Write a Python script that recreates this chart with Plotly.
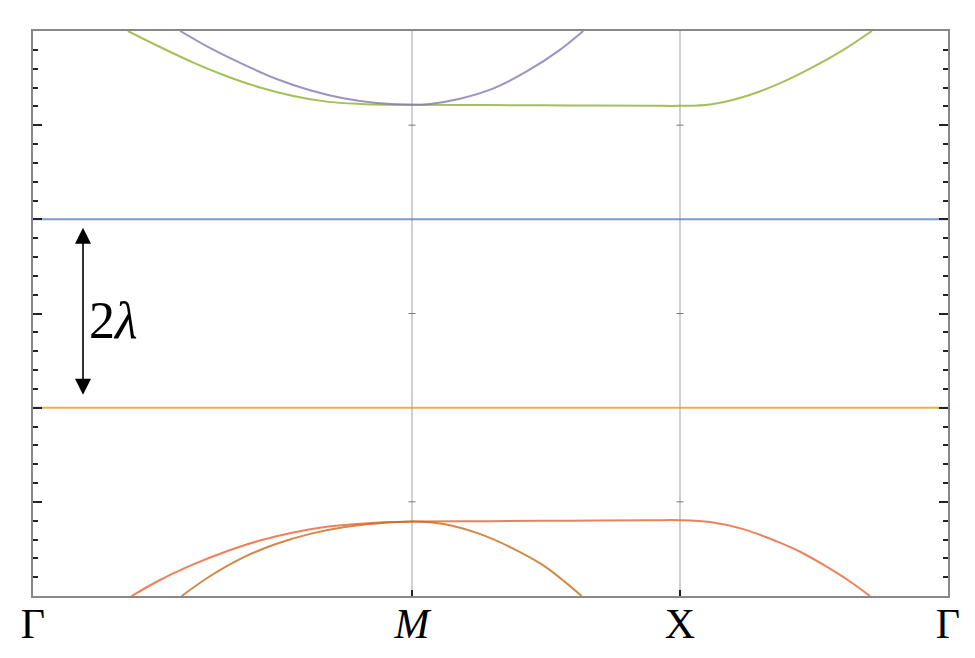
import plotly.graph_objects as go

# k-path positions (units of pi/a): Gamma, M, X, Gamma
k_ticks = [0.0, 1.414, 2.414, 3.414]
k_labels = ["Γ", "<i>M</i>", "X", "Γ"]

lam = 1.0
E_range = [-3.0, 3.0]

# flat bands at +lambda and -lambda
flat_k = [0.0, 3.414]
flat_upper = [1.0, 1.0]
flat_lower = [-1.0, -1.0]

# upper green band
green_k = [0.354, 0.474, 0.598, 0.723, 0.847, 0.971, 1.096, 1.220, 1.320, 1.414,
           1.70, 2.00, 2.30, 2.414, 2.526, 2.650, 2.775, 2.899, 3.024, 3.130]
green_E = [3.00, 2.83, 2.665, 2.52, 2.40, 2.31, 2.25, 2.225, 2.217, 2.216,
           2.213, 2.21, 2.206, 2.205, 2.22, 2.30, 2.43, 2.60, 2.80, 3.00]

# upper purple band
purple_k = [0.549, 0.660, 0.785, 0.909, 1.034, 1.158, 1.282, 1.414,
            1.481, 1.593, 1.718, 1.842, 1.966, 2.053]
purple_E = [3.00, 2.82, 2.645, 2.49, 2.37, 2.285, 2.235, 2.216,
            2.225, 2.28, 2.39, 2.57, 2.80, 3.00]

# lower red band
red_k = [0.368, 0.474, 0.598, 0.723, 0.847, 0.971, 1.096, 1.220, 1.344, 1.414,
         1.70, 2.00, 2.30, 2.414, 2.526, 2.650, 2.775, 2.862, 2.950, 3.040, 3.123]
red_E = [-3.00, -2.83, -2.665, -2.525, -2.41, -2.325, -2.265, -2.232, -2.214, -2.21,
         -2.205, -2.20, -2.196, -2.195, -2.215, -2.29, -2.42, -2.53, -2.67, -2.83, -3.00]

# lower brown band
brown_k = [0.555, 0.660, 0.785, 0.909, 1.034, 1.158, 1.282, 1.414,
           1.531, 1.656, 1.780, 1.904, 2.047]
brown_E = [-3.00, -2.79, -2.59, -2.445, -2.34, -2.27, -2.23, -2.21,
           -2.235, -2.33, -2.48, -2.675, -3.00]

# small marks on the interior grid lines at major energies
mark_k = [1.414, 2.414]
mark_E = [-2.0, 0.0, 2.0]

c_blue = "#5E81B5"
c_orange = "#E09C24"
c_green = "#8FB032"
c_red = "#EB6235"
c_purple = "#8778B3"
c_brown = "#C56E1A"

fig = go.Figure()

def band(k, E, color):
    fig.add_trace(go.Scatter(x=k, y=E, mode="lines",
                             line=dict(color=color, width=2, shape="spline", smoothing=1.0),
                             opacity=0.8, hoverinfo="skip", showlegend=False))

band(flat_k, flat_upper, c_blue)
band(flat_k, flat_lower, c_orange)
band(green_k, green_E, c_green)
band(purple_k, purple_E, c_purple)
band(red_k, red_E, c_red)
band(brown_k, brown_E, c_brown)

mk = [k for k in mark_k for _ in mark_E]
me = [e for _ in mark_k for e in mark_E]
fig.add_trace(go.Scatter(x=mk, y=me, mode="markers",
                         marker=dict(symbol="line-ew", size=5, line=dict(color="#777", width=1)),
                         hoverinfo="skip", showlegend=False))

# double-headed arrow indicating 2 lambda
arrow_k = 0.1866
fig.add_annotation(x=arrow_k, y=0.91 * lam, ax=arrow_k, ay=-0.88 * lam,
                   xref="x", yref="y", axref="x", ayref="y",
                   showarrow=True, arrowhead=2, startarrowhead=2, arrowside="end+start",
                   arrowsize=2.0, startarrowsize=2.0, arrowwidth=1.6, arrowcolor="black",
                   standoff=0, startstandoff=0, text="")
fig.add_annotation(x=0.203, y=-0.07, xref="x", yref="y", text="2<i>λ</i>",
                   showarrow=False, xanchor="left", yanchor="middle",
                   font=dict(family="Liberation Serif", size=52, color="black"))

fig.update_xaxes(range=[0, 3.414], tickvals=k_ticks, ticktext=k_labels,
                 showgrid=True, gridcolor="#D0D0D0", gridwidth=1.5,
                 showline=True, linecolor="#888", linewidth=2, mirror=True,
                 ticks="inside", ticklen=6, tickwidth=2, tickcolor="#222",
                 ticklabelstandoff=-10, automargin=False,
                 tickfont=dict(family="Liberation Serif", size=42, color="black"),
                 zeroline=False, fixedrange=True)
fig.update_yaxes(range=E_range, dtick=1, tick0=0, showticklabels=False,
                 showgrid=False, zeroline=False, automargin=False,
                 showline=True, linecolor="#888", linewidth=2, mirror="ticks",
                 ticks="inside", ticklen=9, tickwidth=2, tickcolor="#222",
                 minor=dict(ticks="inside", ticklen=5, tickwidth=2, tickcolor="#222", dtick=0.2),
                 fixedrange=True)

# the page body has an 8px margin, so the figure is offset by 8px
fig.update_layout(width=959, height=642, margin=dict(l=25, r=19, t=23, b=54),
                  plot_bgcolor="white", paper_bgcolor="white")

fig.write_html("out.html")
